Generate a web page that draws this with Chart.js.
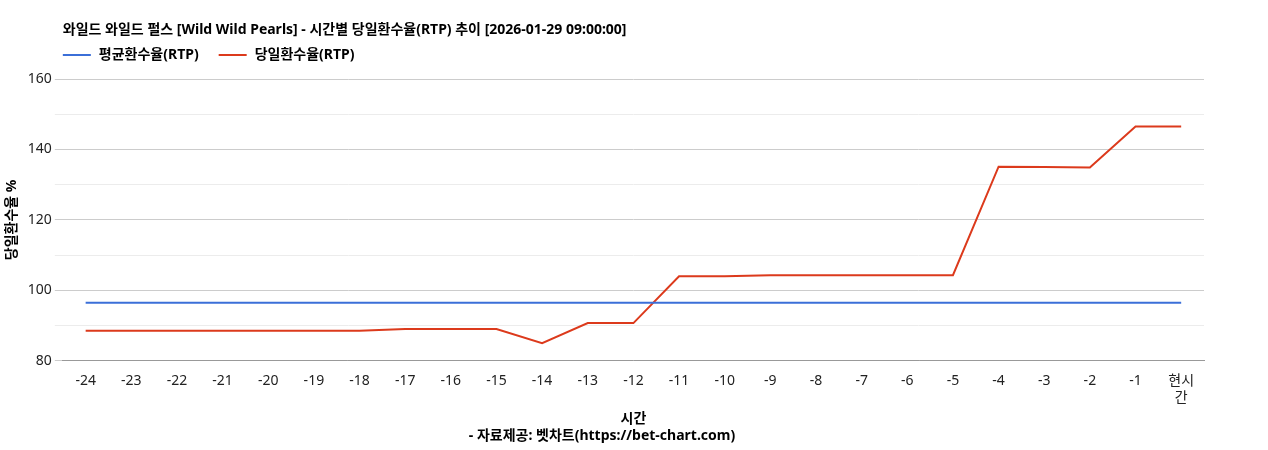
<!DOCTYPE html>
<html>
<head>
<meta charset="utf-8">
<script src="https://cdn.jsdelivr.net/npm/chart.js@4"></script>
<style>
  html, body { margin: 0; padding: 0; background: #fff; }
  #wrap { width: 1268px; height: 450px; }
</style>
</head>
<body>
<div id="wrap"><canvas id="chart"></canvas></div>
<script>
// Data
const hours = ['-24','-23','-22','-21','-20','-19','-18','-17','-16','-15','-14','-13','-12',
               '-11','-10','-9','-8','-7','-6','-5','-4','-3','-2','-1',['현시','간']];
const avgRtp = [96.5,96.5,96.5,96.5,96.5,96.5,96.5,96.5,96.5,96.5,96.5,96.5,96.5,
                96.5,96.5,96.5,96.5,96.5,96.5,96.5,96.5,96.5,96.5,96.5,96.5];
const dayRtp = [88.5,88.5,88.5,88.5,88.5,88.5,88.5,89,89,89,85,90.7,90.7,
                104,104,104.3,104.3,104.3,104.3,104.3,135.1,135,134.9,146.5,146.5];

const titleText = '와일드 와일드 펄스 [Wild Wild Pearls] - 시간별 당일환수율(RTP) 추이 [2026-01-29 09:00:00]';
const font = '"Noto Sans", "Noto Sans CJK KR", sans-serif';
Chart.defaults.font.family = font;
Chart.defaults.color = '#222';

// title and legend drawn at the plot's left edge, like the reference
const header = {
    id: 'header',
    afterDraw(chart) {
        const c = chart.ctx;
        const x0 = chart.chartArea.left;
        c.save();
        c.fillStyle = '#000';
        c.textBaseline = 'middle';
        c.font = 'bold 14px ' + font;
        c.fillText(titleText, x0, 30);
        let x = x0;
        chart.data.datasets.forEach(ds => {
            c.fillStyle = ds.borderColor;
            c.fillRect(x, 54, 28, 2);
            c.fillStyle = '#000';
            c.fillText(ds.label, x + 36, 55);
            x += 36 + c.measureText(ds.label).width + 20;
        });
        c.restore();
    }
};

new Chart(document.getElementById('chart'), {
    type: 'line',
    data: {
        labels: hours,
        datasets: [
            { label: '평균환수율(RTP)', data: avgRtp, borderColor: '#3b6fd8', borderWidth: 2, pointRadius: 0, tension: 0 },
            { label: '당일환수율(RTP)', data: dayRtp, borderColor: '#dc3a1c', borderWidth: 2, pointRadius: 0, tension: 0 }
        ]
    },
    plugins: [header],
    options: {
        responsive: true,
        maintainAspectRatio: false,
        animation: false,
        layout: { padding: { left: 0, right: 64, top: 79, bottom: 6 } },
        plugins: {
            legend: { display: false },
            subtitle: {
                display: true, position: 'bottom',
                text: '- 자료제공: 벳차트(https://bet-chart.com)',
                font: { size: 14, weight: 'bold' }, color: '#000', padding: { top: 0, bottom: 0 }
            }
        },
        scales: {
            x: {
                offset: true,
                grid: { display: false },
                border: { color: '#999' },
                ticks: { font: { size: 14 }, color: '#222', maxRotation: 0, autoSkip: false, padding: 4 },
                title: { display: true, text: '시간', font: { size: 14, weight: 'bold' }, color: '#000', padding: { top: 0, bottom: 0 } }
            },
            y: {
                min: 80, max: 160,
                border: { display: false },
                grid: { color: ctx => ctx.tick.value % 20 === 0 ? '#cccccc' : '#ececec' },
                ticks: { stepSize: 10, font: { size: 14 }, color: '#222',
                         callback: v => v % 20 === 0 ? v : '' },
                title: { display: true, text: '당일환수율 %', font: { size: 14, weight: 'bold' }, color: '#000' }
            }
        }
    }
});
</script>
</body>
</html>
